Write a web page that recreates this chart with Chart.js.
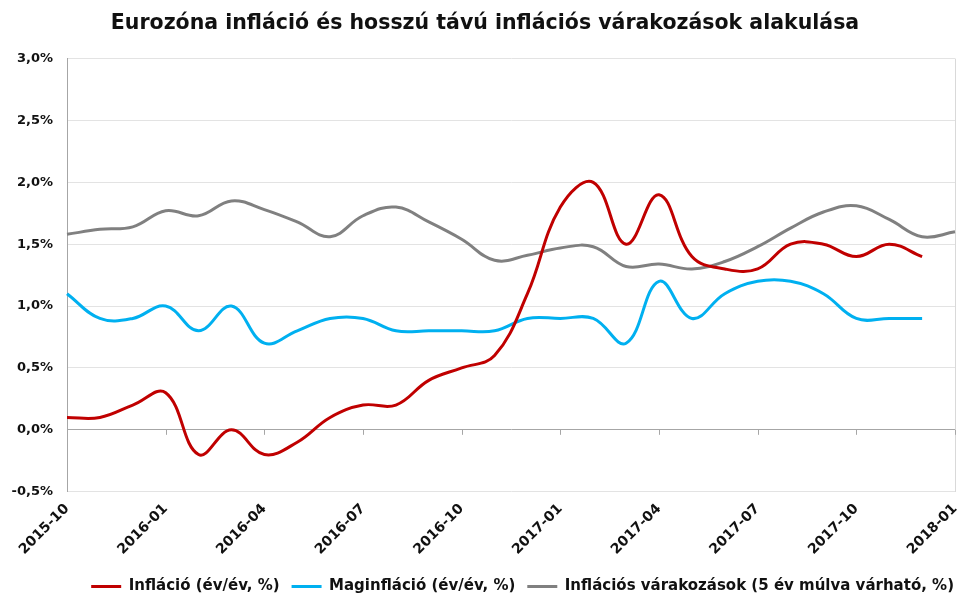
<!DOCTYPE html>
<html>
<head>
<meta charset="utf-8">
<script src="https://cdn.jsdelivr.net/npm/chart.js@4/dist/chart.umd.min.js"></script>
<style>
  html, body { margin: 0; padding: 0; background: #fff; }
  #wrap { width: 966px; height: 600px; }
</style>
</head>
<body>
<div id="wrap"><canvas id="chart" width="966" height="600"></canvas></div>
<script>
let months = [
  '2015-10', '2015-11', '2015-12', '2016-01', '2016-02', '2016-03', '2016-04',
  '2016-05', '2016-06', '2016-07', '2016-08', '2016-09', '2016-10', '2016-11',
  '2016-12', '2017-01', '2017-02', '2017-03', '2017-04', '2017-05', '2017-06',
  '2017-07', '2017-08', '2017-09', '2017-10', '2017-11', '2017-12', '2018-01'
];

// ev/ev, %
let inflacio = [
  0.1, 0.1, 0.2, 0.3, -0.2, 0.0, -0.2,
  -0.1, 0.1, 0.2, 0.2, 0.4, 0.5, 0.6,
  1.1, 1.8, 2.0, 1.5, 1.9, 1.4, 1.3,
  1.3, 1.5, 1.5, 1.4, 1.5, 1.4, null
];

let maginflacio = [
  1.1, 0.9, 0.9, 1.0, 0.8, 1.0, 0.7,
  0.8, 0.9, 0.9, 0.8, 0.8, 0.8, 0.8,
  0.9, 0.9, 0.9, 0.7, 1.2, 0.9, 1.1,
  1.2, 1.2, 1.1, 0.9, 0.9, 0.9, null
];

// 5 ev mulva varhato
let varakozasok = [
  1.58, 1.62, 1.64, 1.77, 1.73, 1.85, 1.78,
  1.68, 1.56, 1.73, 1.80, 1.68, 1.54, 1.37,
  1.41, 1.47, 1.48, 1.32, 1.34, 1.30, 1.36,
  1.48, 1.63, 1.76, 1.81, 1.70, 1.56, 1.60
];

let seriesNames = [
  'Infláció (év/év, %)',
  'Maginfláció (év/év, %)',
  'Inflációs várakozások (5 év múlva várható, %)'
];

let fontFamily = '"DejaVu Sans", sans-serif';

// small tick marks on the zero line, every 3rd month
let zeroTicks = {
  id: 'zeroTicks',
  beforeDatasetsDraw: function(chart) {
    let ctx = chart.ctx;
    let x = chart.scales.x;
    let y0 = chart.scales.y.getPixelForValue(0);
    ctx.save();
    ctx.strokeStyle = '#a6a6a6';
    ctx.lineWidth = 1;
    for (let i = 3; i < months.length; i += 3) {
      let px = Math.round(x.getPixelForValue(i)) + 0.5;
      ctx.beginPath();
      ctx.moveTo(px, y0);
      ctx.lineTo(px, y0 + 5);
      ctx.stroke();
    }
    ctx.restore();
  }
};

let makeDataset = function(label, data, color) {
  return {
    label: label,
    data: data,
    borderColor: color,
    backgroundColor: color,
    borderWidth: 3,
    pointRadius: 0,
    pointStyle: 'line',
    tension: 0.4,
    spanGaps: false
  };
};

let chart = new Chart(document.getElementById('chart'), {
  type: 'line',
  data: {
    labels: months,
    datasets: [
      makeDataset(seriesNames[0], inflacio, '#c00000'),
      makeDataset(seriesNames[1], maginflacio, '#00b0f0'),
      makeDataset(seriesNames[2], varakozasok, '#808080')
    ]
  },
  plugins: [zeroTicks],
  options: {
    responsive: false,
    animation: false,
    layout: { padding: { left: 4, right: 0, top: 6, bottom: -4 } },
    plugins: {
      title: {
        display: true,
        text: 'Eurozóna infláció és hosszú távú inflációs várakozások alakulása',
        color: '#111',
        font: { family: fontFamily, size: 20.5, weight: 'bold' },
        padding: { top: 5, bottom: 23 }
      },
      legend: {
        position: 'bottom',
        align: 'end',
        labels: {
          color: '#111',
          font: { family: fontFamily, size: 15, weight: 'bold' },
          usePointStyle: true,
          pointStyle: 'line',
          pointStyleWidth: 30,
          boxHeight: 10,
          padding: 12
        }
      },
      tooltip: { enabled: false }
    },
    scales: {
      x: {
        offset: false,
        // rotated labels should not push the plot area inwards
        afterFit: function(scale) {
          scale.paddingLeft = 0;
          scale.paddingRight = 11;
        },
        grid: {
          drawTicks: false,
          color: function(c) { return c.index == months.length - 1 ? '#d9d9d9' : 'rgba(0,0,0,0)'; }
        },
        border: { display: false },
        ticks: {
          autoSkip: false,
          maxRotation: 45,
          minRotation: 45,
          padding: 9,
          color: '#111',
          font: { family: fontFamily, size: 14, weight: 'bold' },
          callback: function(value, index) { return index % 3 == 0 ? months[index] : ''; }
        }
      },
      y: {
        min: -0.5,
        max: 3.0,
        afterFit: function(scale) {
          scale.width = 63;
        },
        border: { display: true, color: '#a6a6a6' },
        grid: {
          drawTicks: false,
          color: function(c) { return c.tick.value == 0 ? '#a6a6a6' : '#e3e3e3'; }
        },
        ticks: {
          stepSize: 0.5,
          padding: 14,
          color: '#111',
          font: { family: fontFamily, size: 13, weight: 'bold' },
          callback: function(v) { return v.toFixed(1).replace('.', ',') + '%'; }
        }
      }
    }
  }
});
console.log('chart area', chart.chartArea);
</script>
</body>
</html>
